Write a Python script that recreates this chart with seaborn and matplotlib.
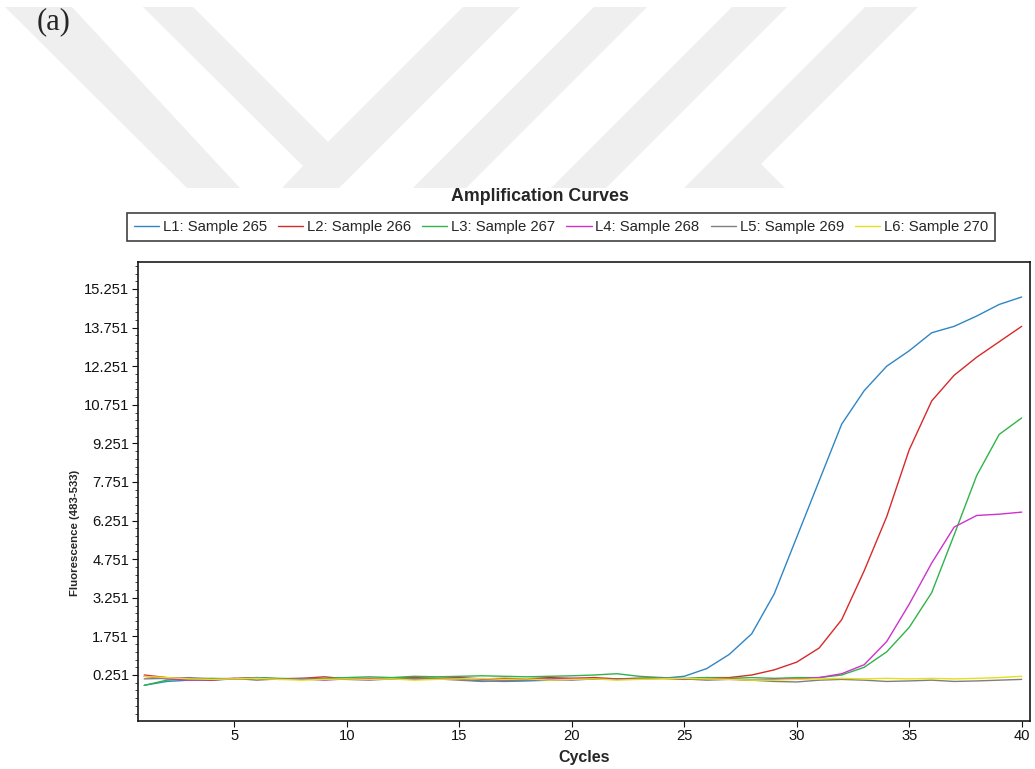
import numpy as np
import pandas as pd
import matplotlib
matplotlib.use("Agg")
import matplotlib.pyplot as plt
from matplotlib.patches import Polygon
from matplotlib.ticker import FixedLocator, FormatStrFormatter
import seaborn as sns

# ---- data ----
cycles = list(range(1, 41))

l1 = [-0.15, 0.00, 0.05, 0.05, 0.10, 0.12, 0.10, 0.08, 0.10, 0.12,
      0.10, 0.12, 0.10, 0.12, 0.08, 0.02, 0.00, 0.02, 0.05, 0.08,
      0.10, 0.10, 0.12, 0.12, 0.20, 0.50, 1.05, 1.85, 3.40, 5.60,
      7.80, 10.00, 11.30, 12.25, 12.85, 13.55, 13.80, 14.20, 14.65, 14.94]
l2 = [0.25, 0.15, 0.10, 0.05, 0.12, 0.15, 0.10, 0.12, 0.18, 0.10,
      0.08, 0.12, 0.15, 0.12, 0.15, 0.10, 0.12, 0.10, 0.15, 0.12,
      0.15, 0.10, 0.12, 0.15, 0.10, 0.15, 0.15, 0.25, 0.45, 0.75,
      1.30, 2.40, 4.30, 6.40, 9.00, 10.90, 11.90, 12.60, 13.20, 13.80]
l3 = [-0.15, 0.05, 0.10, 0.12, 0.10, 0.15, 0.12, 0.10, 0.12, 0.15,
      0.18, 0.15, 0.20, 0.18, 0.20, 0.22, 0.20, 0.18, 0.20, 0.22,
      0.25, 0.30, 0.20, 0.15, 0.12, 0.15, 0.12, 0.15, 0.12, 0.15,
      0.15, 0.25, 0.55, 1.15, 2.10, 3.45, 5.70, 8.00, 9.60, 10.24]
l4 = [0.20, 0.10, 0.05, 0.08, 0.10, 0.12, 0.08, 0.10, 0.05, 0.10,
      0.12, 0.10, 0.08, 0.10, 0.12, 0.10, 0.05, 0.08, 0.10, 0.12,
      0.10, 0.08, 0.10, 0.12, 0.08, 0.10, 0.10, 0.05, 0.08, 0.10,
      0.15, 0.30, 0.65, 1.55, 3.00, 4.60, 6.00, 6.45, 6.50, 6.58]
l5 = [0.10, 0.12, 0.15, 0.10, 0.12, 0.05, 0.10, 0.12, 0.10, 0.08,
      0.05, 0.10, 0.12, 0.10, 0.05, 0.00, 0.02, 0.05, 0.08, 0.05,
      0.10, 0.08, 0.10, 0.12, 0.10, 0.05, 0.08, 0.05, 0.00, -0.02,
      0.05, 0.08, 0.05, 0.00, 0.02, 0.05, 0.00, 0.02, 0.05, 0.08]
l6 = [0.20, 0.15, 0.10, 0.08, 0.10, 0.12, 0.08, 0.05, 0.08, 0.10,
      0.08, 0.10, 0.05, 0.08, 0.10, 0.12, 0.08, 0.10, 0.05, 0.08,
      0.10, 0.05, 0.08, 0.10, 0.12, 0.10, 0.08, 0.05, 0.05, 0.08,
      0.10, 0.12, 0.10, 0.12, 0.10, 0.12, 0.10, 0.12, 0.15, 0.20]

sample_names = ["L1: Sample 265", "L2: Sample 266", "L3: Sample 267",
                "L4: Sample 268", "L5: Sample 269", "L6: Sample 270"]
series = [l1, l2, l3, l4, l5, l6]
colors = ["#2f86c5", "#d62a2a", "#2fb34a", "#cc33cc", "#7f7f7f", "#e6df1c"]

y_ticks = [0.251 + 1.5 * i for i in range(11)]
x_ticks = [5, 10, 15, 20, 25, 30, 35, 40]

df = pd.DataFrame({
    "Cycle": cycles * len(series),
    "Fluorescence": [v for s in series for v in s],
    "Sample": [n for n in sample_names for _ in cycles],
})

# ---- style ----
sns.set_style("white")
plt.rcParams["font.family"] = ["Liberation Sans", "DejaVu Sans"]

W, H = 1035, 769
fig = plt.figure(figsize=(W / 100, H / 100), dpi=100)

# faint watermark in the page background (pixel coords, y down)
watermark = [
    [(5, 7), (72, 7), (240, 188), (187, 188)],
    [(143, 7), (193, 7), (328, 142), (463, 7), (520, 7), (339, 188), (282, 188), (303, 166)],
    [(594, 7), (647, 7), (466, 188), (413, 188)],
    [(732, 7), (787, 7), (606, 188), (551, 188)],
    [(865, 7), (918, 7), (761, 164), (785, 188), (684, 188)],
]
for poly in watermark:
    pts = [(px / W, 1 - py / H) for px, py in poly]
    fig.add_artist(Polygon(pts, closed=True, transform=fig.transFigure,
                           facecolor="#efefef", edgecolor="none", zorder=0))

ax = fig.add_axes([137.7 / W, 1 - 721 / H, (1030 - 137.7) / W, (721 - 262) / H])

sns.lineplot(data=df, x="Cycle", y="Fluorescence", hue="Sample",
             palette=colors, linewidth=1.0, ax=ax)

ax.set_xlim(0.71, 40.37)
ax.set_ylim(-1.537, 16.30)

ax.xaxis.set_major_locator(FixedLocator(x_ticks))
ax.yaxis.set_major_locator(FixedLocator(y_ticks))
ax.yaxis.set_major_formatter(FormatStrFormatter("%.3f"))
ax.yaxis.set_minor_locator(FixedLocator([0.251 + 0.3 * i for i in range(-5, 55)]))

ax.tick_params(axis="both", which="major", direction="out", length=4,
               width=0.8, pad=2, labelsize=10.6, colors="#111111", left=True, bottom=True)
ax.tick_params(axis="y", which="minor", direction="out", length=2.5,
               width=0.6, left=True)

for sp in ax.spines.values():
    sp.set_color("#1a1a1a")
    sp.set_linewidth(1.2)

ax.set_xlabel("Cycles", fontsize=11.5, fontweight="bold")
ax.set_ylabel("Fluorescence (483-533)", fontsize=8.2, fontweight="bold")
ax.xaxis.set_label_coords(0.5, -0.063)
ax.yaxis.set_label_coords(-0.0647, 0.41)

handles, labels = ax.get_legend_handles_labels()
ax.get_legend().remove()
leg = fig.legend(handles, labels, ncol=6, loc="center",
                 bbox_to_anchor=(561 / W, 1 - 227 / H), fontsize=10.7,
                 frameon=True, fancybox=False, handlelength=1.7,
                 handletextpad=0.25, columnspacing=0.75, borderpad=0.45,
                 borderaxespad=0)
leg.get_frame().set_edgecolor("#111111")
leg.get_frame().set_linewidth(1.2)
for lh in leg.get_lines():
    lh.set_linewidth(1.0)

fig.text(540 / W, 1 - 201 / H, "Amplification Curves", ha="center",
         va="baseline", fontsize=12.8, fontweight="bold")
fig.text(37 / W, 1 - 29 / H, "(a)", ha="left", va="baseline",
         fontsize=22, family=["Liberation Serif", "DejaVu Serif"])

fig.savefig("out.png", dpi=100)
